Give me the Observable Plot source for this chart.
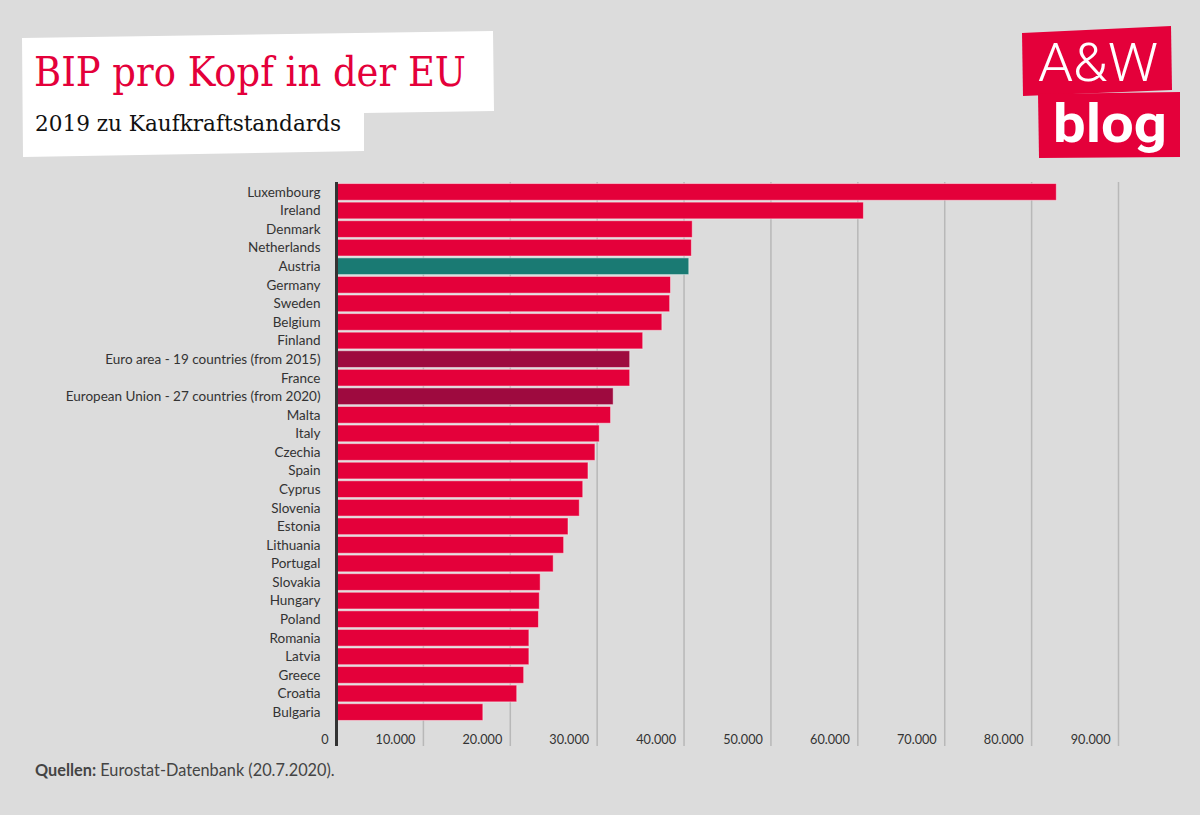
<!DOCTYPE html>
<html><head><meta charset="utf-8">
<script src="https://cdn.jsdelivr.net/npm/d3@7"></script>
<script src="https://cdn.jsdelivr.net/npm/@observablehq/plot@0.6"></script>
<style>
html,body{margin:0;padding:0}
body{background:#dcdcdc;width:1200px;height:815px;overflow:hidden;position:relative;font-family:Lato,"Noto Sans",sans-serif}
.abs{position:absolute;white-space:nowrap;line-height:1}
#titlebox{left:0;top:0;width:1200px;height:815px;background:#fff;
 clip-path:polygon(22px 38px,493px 31px,494px 111px,364px 113px,364px 151px,23px 157px)}
#title{font-family:"DejaVu Serif",serif;color:#e4003a;font-size:41.5px;transform-origin:0 0}
#subtitle{font-family:"DejaVu Serif",serif;color:#111;font-size:22px;transform-origin:0 0}
#logo1{left:0;top:0;width:1200px;height:815px;background:#e4003a;
 clip-path:polygon(1022px 33px,1171px 26px,1172px 90px,1023px 96px)}
#logo2{left:0;top:0;width:1200px;height:815px;background:#e4003a;
 clip-path:polygon(1038px 94px,1180px 92px,1180px 157px,1039px 158px)}
#logoA{font-family:Roboto,sans-serif;font-weight:300;color:#fff;font-size:54px;transform-origin:0 0}
#logoB{font-family:Roboto,sans-serif;font-weight:700;color:#fff;font-size:53px;transform-origin:0 0}
#chart{left:0;top:170px}
#caption{left:35px;top:762px;font-size:16.3px;color:#444;font-family:Lato,sans-serif}
</style></head><body>
<div id="titlebox" class="abs"></div>
<div id="title" class="abs">BIP pro Kopf in der EU</div>
<div id="subtitle" class="abs">2019 zu Kaufkraftstandards</div>
<div id="logo1" class="abs"></div>
<div id="logo2" class="abs"></div>
<div id="logoA" class="abs">A&amp;W</div>
<div id="logoB" class="abs">blog</div>
<div id="chart" class="abs"></div>
<div id="caption" class="abs"><b>Quellen:</b> Eurostat-Datenbank (20.7.2020).</div>
<script>
const countries = ["Luxembourg","Ireland","Denmark","Netherlands","Austria","Germany","Sweden","Belgium","Finland","Euro area - 19 countries (from 2015)","France","European Union - 27 countries (from 2020)","Malta","Italy","Czechia","Spain","Cyprus","Slovenia","Estonia","Lithuania","Portugal","Slovakia","Hungary","Poland","Romania","Latvia","Greece","Croatia","Bulgaria"];
const values = [82900,60700,41000,40900,40600,38500,38400,37500,35300,33800,33800,31900,31600,30300,29800,29000,28400,28000,26700,26200,25000,23500,23400,23300,22200,22200,21600,20800,16900];
const groups = ["country","country","country","country","austria","country","country","country","country","aggregate","country","aggregate","country","country","country","country","country","country","country","country","country","country","country","country","country","country","country","country","country"];
const xTicks = [0,10000,20000,30000,40000,50000,60000,70000,80000,90000];

const data = countries.map((c,i)=>({country:c,value:values[i],group:groups[i]}));
const fmt = d => d3.format(",")(d).replace(/,/g,".");

const chart = Plot.plot({
  width:1200, height:590,
  marginLeft:336, marginRight:82, marginTop:12, marginBottom:14,
  style:{background:"transparent", fontFamily:"Lato, 'Noto Sans', sans-serif", fontSize:"13px", color:"#333"},
  x:{domain:[0,90000], axis:null},
  y:{domain:countries, range:[13,551], paddingInner:0.1, paddingOuter:0.03, round:false},
  color:{domain:["country","austria","aggregate"], range:["#e4003a","#1a7a73","#9e0a3f"]},
  marks:[
    Plot.ruleX(xTicks.slice(1), {stroke:"#b8b8b8", strokeWidth:1.5}),
    Plot.barX(data, {y:"country", x:"value", fill:"group", stroke:"#ffffff", strokeOpacity:0.45, strokeWidth:1}),
    Plot.ruleX([0], {stroke:"#333", strokeWidth:3}),
    Plot.axisY({tickSize:0, tickPadding:16, fontSize:13.5, fill:"#333", label:null}),
    Plot.text(xTicks, {x:d=>d, text:fmt, frameAnchor:"bottom", textAnchor:"end", lineAnchor:"bottom", dx:-8, dy:-3, fontSize:12.7, fill:"#333"})
  ]
});
document.getElementById("chart").appendChild(chart);

// fit decorative texts to their boxes
function fit(id, left, top, width){
  const el = document.getElementById(id);
  el.style.left = left+"px";
  el.style.top = "0px";
  const w = el.getBoundingClientRect().width;
  const s = width / w;
  el.style.transform = `scaleX(${s})`;
  el.style.top = top + "px";
}
fit("title", 34, 51, 432);
fit("subtitle", 35, 113, 306);
fit("logoA", 1038, 36, 120);
fit("logoB", 1053, 98, 114);
</script>
</body></html>
